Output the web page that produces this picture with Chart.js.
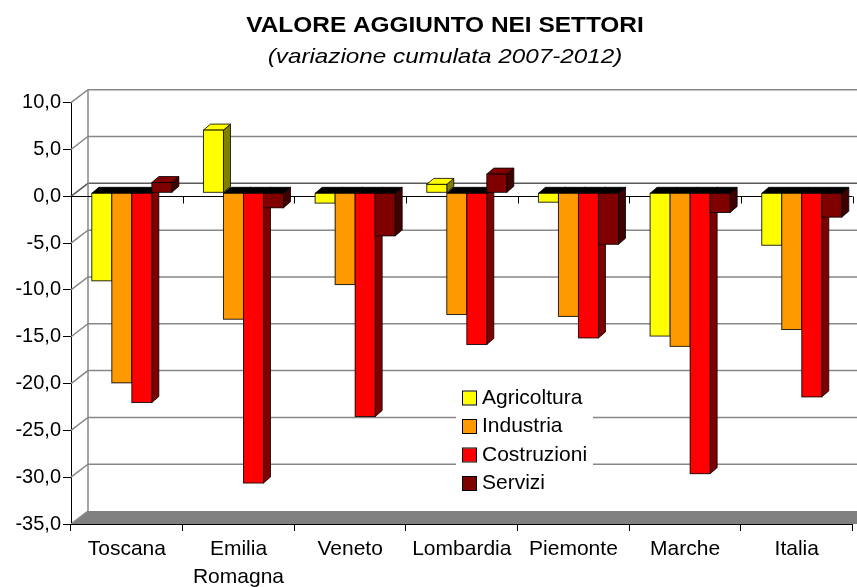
<!DOCTYPE html>
<html>
<head>
<meta charset="utf-8">
<script src="https://cdn.jsdelivr.net/npm/chart.js@4.4.1/dist/chart.umd.min.js"></script>
<style>
  body { margin: 0; background: #fff; }
</style>
</head>
<body>
<canvas id="chart" width="857" height="587"></canvas>
<script>
const regions = ["Toscana", ["Emilia", "Romagna"], "Veneto", "Lombardia", "Piemonte", "Marche", "Italia"];
const sectors = ["Agricoltura", "Industria", "Costruzioni", "Servizi"];

const agricoltura = [-9.4, 6.7, -1.1, 0.9, -1.0, -15.3, -5.6];
const industria   = [-20.3, -13.5, -9.8, -13.0, -13.2, -16.4, -14.6];
const costruzioni = [-22.4, -31.0, -23.9, -16.2, -15.5, -30.0, -21.8];
const servizi     = [1.1, -1.6, -4.6, 2.0, -5.5, -2.1, -2.6];

const yMin = -35, yMax = 10, yStep = 5;

const titleText = "VALORE AGGIUNTO NEI SETTORI";
const subtitleText = "(variazione cumulata 2007-2012)";

const faceColors = ["#ffff00", "#ff9900", "#ff0000", "#800000"];
const sideColors = ["#808000", "#804d00", "#800000", "#400000"];

const FONT = "'Liberation Sans', Arial, sans-serif";
Chart.defaults.font.family = FONT;

// depth of the back wall and of each bar, in px
const WALL_DX = 17, WALL_DY = 13;
const BAR_DX = 7, BAR_DY = 6;
const SHIFT_X = 5, SHIFT_Y = -3.5;

// draw a line of text centred at cx, stretched horizontally (the original font is wide)
function wideText(ctx, text, font, cx, cy, sx) {
  ctx.save();
  ctx.font = font;
  ctx.textAlign = "center";
  ctx.textBaseline = "middle";
  ctx.fillStyle = "#000";
  ctx.translate(cx, cy);
  ctx.scale(sx, 1);
  ctx.fillText(text, 0, 0);
  ctx.restore();
}

const box3d = {
  id: "box3d",
  beforeDatasetsDraw(chart) {
    const { ctx, chartArea: a, scales: { x, y } } = chart;
    ctx.save();

    // floor
    ctx.fillStyle = "#808080";
    ctx.beginPath();
    ctx.moveTo(a.left, a.bottom);
    ctx.lineTo(a.left + WALL_DX, a.bottom - WALL_DY);
    ctx.lineTo(chart.width, a.bottom - WALL_DY);
    ctx.lineTo(chart.width, a.bottom);
    ctx.closePath();
    ctx.fill();

    // back wall grid and side diagonals
    ctx.lineWidth = 1.5;
    y.ticks.forEach(t => {
      const py = y.getPixelForValue(t.value);
      ctx.strokeStyle = t.value === 0 ? "#5a5a5a" : "#878787";
      ctx.beginPath();
      ctx.moveTo(a.left, py);
      ctx.lineTo(a.left + WALL_DX, py - WALL_DY);
      if (t.value > yMin) ctx.lineTo(chart.width, py - WALL_DY);
      ctx.stroke();
    });
    ctx.strokeStyle = "#878787";
    ctx.beginPath();
    ctx.moveTo(a.left + WALL_DX, a.top - WALL_DY);
    ctx.lineTo(a.left + WALL_DX, a.bottom - WALL_DY);
    ctx.stroke();

    // front zero line with category ticks
    const y0 = Math.round(y.getPixelForValue(0)) + 0.5;
    const half = (x.getPixelForValue(1) - x.getPixelForValue(0)) / 2;
    ctx.strokeStyle = "#000";
    ctx.lineWidth = 1;
    ctx.beginPath();
    ctx.moveTo(a.left, y0);
    ctx.lineTo(a.right, y0);
    regions.forEach((r, i) => {
      const px = Math.round(x.getPixelForValue(i) + half) + 0.5;
      ctx.moveTo(px, y0);
      ctx.lineTo(px, y0 + 7);
    });
    ctx.stroke();

    // bottom axis line over the floor
    ctx.beginPath();
    ctx.moveTo(a.left, Math.round(a.bottom) + 0.5);
    ctx.lineTo(a.right, Math.round(a.bottom) + 0.5);
    ctx.stroke();
    ctx.restore();

    ctx.save();
    ctx.translate(SHIFT_X, SHIFT_Y);
  },
  afterDatasetsDraw(chart) {
    const { ctx } = chart;
    const metas = chart.data.datasets.map((d, i) => chart.getDatasetMeta(i));
    regions.forEach((r, i) => {
      metas.forEach((meta, k) => {
        const el = meta.data[i];
        const v = chart.data.datasets[k].data[i];
        const left = el.x - el.width / 2, right = el.x + el.width / 2;
        const top = Math.min(el.y, el.base), bottom = Math.max(el.y, el.base);
        ctx.lineWidth = 1;
        ctx.strokeStyle = "rgba(0,0,0,0.8)";
        // side face
        ctx.fillStyle = sideColors[k];
        ctx.beginPath();
        ctx.moveTo(right, top);
        ctx.lineTo(right + BAR_DX, top - BAR_DY);
        ctx.lineTo(right + BAR_DX, bottom - BAR_DY);
        ctx.lineTo(right, bottom);
        ctx.closePath();
        ctx.fill();
        ctx.stroke();
        // top face
        ctx.fillStyle = v >= 0 ? faceColors[k] : "#000";
        ctx.beginPath();
        ctx.moveTo(left, top);
        ctx.lineTo(left + BAR_DX, top - BAR_DY);
        ctx.lineTo(right + BAR_DX, top - BAR_DY);
        ctx.lineTo(right, top);
        ctx.closePath();
        ctx.fill();
        ctx.stroke();
        // front face
        ctx.fillStyle = faceColors[k];
        ctx.fillRect(left, top, right - left, bottom - top);
        ctx.strokeRect(left, top, right - left, bottom - top);
      });
    });
    ctx.restore();
  },
  afterDraw(chart) {
    const { ctx } = chart;
    // titles
    wideText(ctx, titleText, "bold 22px " + FONT, 445, 26, 1.11);
    wideText(ctx, subtitleText, "italic 21px " + FONT, 445, 57, 1.155);

    // legend box inside the plot
    ctx.save();
    ctx.fillStyle = "#fff";
    ctx.fillRect(456, 384, 137, 114);
    ctx.font = "21px " + FONT;
    ctx.textBaseline = "middle";
    chart.data.datasets.forEach((d, k) => {
      const cy = 398 + k * 28.5;
      ctx.fillStyle = d.backgroundColor;
      ctx.fillRect(463, cy - 6.5, 13, 13);
      ctx.strokeStyle = "#000";
      ctx.lineWidth = 1;
      ctx.strokeRect(462.5, cy - 7, 14, 14);
      ctx.fillStyle = "#000";
      ctx.fillText(d.label, 482, cy);
    });
    ctx.restore();
  }
};

new Chart(document.getElementById("chart"), {
  type: "bar",
  data: {
    labels: regions,
    datasets: [agricoltura, industria, costruzioni, servizi].map((vals, i) => ({
      label: sectors[i],
      data: vals,
      backgroundColor: faceColors[i],
      borderColor: "#000",
      borderWidth: 1,
      categoryPercentage: 0.717,
      barPercentage: 1
    }))
  },
  options: {
    responsive: false,
    animation: false,
    layout: { padding: { left: 0, right: 4.4, top: 102.7, bottom: 0 } },
    plugins: {
      legend: { display: false },
      tooltip: { enabled: false },
      title: { display: false },
      subtitle: { display: false }
    },
    scales: {
      x: {
        grid: { drawOnChartArea: false, drawTicks: true, tickLength: 7, color: "#000", offset: true },
        border: { color: "#000" },
        ticks: { color: "#000", font: { size: 21, lineHeight: 1.3 }, padding: 5, maxRotation: 0, autoSkip: false },
        afterFit: s => { s.height = 63; }
      },
      y: {
        min: yMin,
        max: yMax,
        grid: { drawOnChartArea: false, tickLength: 8, color: "#000" },
        border: { color: "#000" },
        ticks: {
          stepSize: yStep,
          color: "#000",
          font: { size: 20 },
          padding: 2,
          callback: v => v.toFixed(1).replace(".", ",")
        },
        afterFit: s => { s.width = 71; }
      }
    }
  },
  plugins: [box3d]
});
</script>
</body>
</html>
